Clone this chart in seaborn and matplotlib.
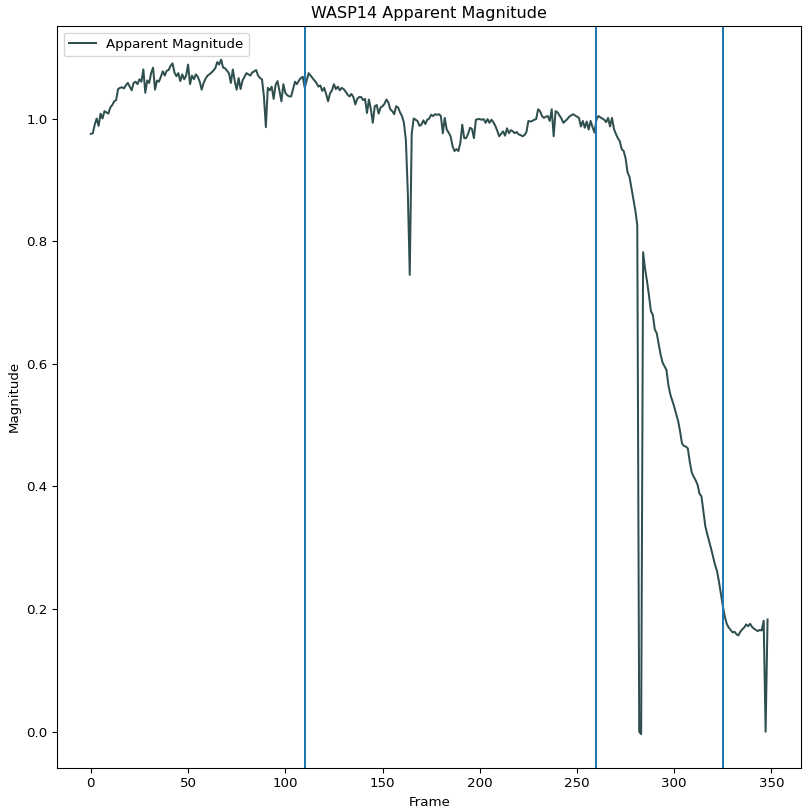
from matplotlib import pyplot as plt
import seaborn as sns
import pandas as pd
import numpy as np

# apparent magnitude per frame
magnitude = [
    0.975, 0.976, 0.990, 1.000, 0.988, 1.008, 1.000, 1.012, 1.010, 1.008,
    1.018, 1.022, 1.028, 1.030, 1.048, 1.050, 1.051, 1.049, 1.054, 1.058,
    1.052, 1.046, 1.058, 1.060, 1.056, 1.064, 1.060, 1.080, 1.042, 1.062,
    1.058, 1.074, 1.083, 1.047, 1.062, 1.060, 1.068, 1.077, 1.070, 1.078,
    1.079, 1.086, 1.090, 1.075, 1.069, 1.074, 1.061, 1.072, 1.064, 1.070,
    1.088, 1.056, 1.070, 1.064, 1.072, 1.068, 1.060, 1.047, 1.058, 1.065,
    1.070, 1.072, 1.075, 1.078, 1.082, 1.092, 1.088, 1.096, 1.083, 1.082,
    1.078, 1.074, 1.058, 1.080, 1.061, 1.047, 1.066, 1.048, 1.062, 1.068,
    1.074, 1.072, 1.070, 1.075, 1.077, 1.079, 1.070, 1.066, 1.064, 1.036,
    0.986, 1.050, 1.046, 1.052, 1.032, 1.055, 1.061, 1.045, 1.028, 1.056,
    1.042, 1.038, 1.036, 1.036, 1.048, 1.060, 1.056, 1.062, 1.066, 1.068,
    1.050, 1.062, 1.074, 1.070, 1.066, 1.062, 1.058, 1.052, 1.054, 1.045,
    1.050, 1.040, 1.028, 1.041, 1.046, 1.056, 1.048, 1.052, 1.046, 1.050,
    1.048, 1.044, 1.039, 1.036, 1.040, 1.035, 1.023, 1.032, 1.035, 1.035,
    1.030, 1.032, 1.009, 1.031, 1.015, 0.993, 1.020, 1.022, 1.008, 1.018,
    1.020, 1.024, 1.031, 1.026, 1.015, 1.012, 1.007, 1.020, 1.018, 1.010,
    1.004, 0.993, 0.965, 0.880, 0.745, 0.975, 1.000, 0.998, 0.996, 0.988,
    0.990, 0.997, 0.991, 0.998, 1.000, 1.006, 1.004, 1.007, 1.006, 1.007,
    1.004, 0.976, 1.001, 0.982, 0.977, 0.971, 0.955, 0.947, 0.950, 0.947,
    0.960, 0.990, 0.968, 0.968, 0.975, 0.985, 0.983, 0.968, 0.998, 0.999,
    0.999, 0.998, 0.999, 0.993, 0.999, 0.993, 0.998, 0.994, 0.988, 0.980,
    0.971, 0.975, 0.979, 0.972, 0.984, 0.976, 0.981, 0.979, 0.976, 0.978,
    0.974, 0.973, 0.971, 0.973, 0.978, 0.996, 0.995, 0.996, 0.998, 0.999,
    1.015, 1.012, 1.004, 1.001, 1.003, 1.004, 0.996, 1.015, 0.971, 1.012,
    1.010, 1.005, 1.000, 0.993, 0.996, 0.999, 1.003, 1.005, 1.007, 1.005,
    1.003, 1.001, 0.987, 0.996, 0.985, 0.995, 0.982, 0.996, 0.986, 0.977,
    0.998, 1.004, 1.002, 1.000, 0.998, 0.994, 1.001, 0.987, 1.001, 0.983,
    0.975, 0.968, 0.963, 0.950, 0.947, 0.935, 0.912, 0.905, 0.887, 0.870,
    0.850, 0.826, 0.000, -0.004, 0.782, 0.755, 0.735, 0.712, 0.686, 0.680,
    0.656, 0.650, 0.632, 0.615, 0.602, 0.596, 0.590, 0.565, 0.550, 0.540,
    0.530, 0.518, 0.507, 0.490, 0.470, 0.466, 0.465, 0.462, 0.440, 0.423,
    0.416, 0.410, 0.403, 0.388, 0.384, 0.360, 0.335, 0.322, 0.310, 0.298,
    0.285, 0.272, 0.262, 0.245, 0.225, 0.205, 0.188, 0.176, 0.170, 0.166,
    0.162, 0.163, 0.159, 0.157, 0.163, 0.167, 0.170, 0.175, 0.172, 0.176,
    0.171, 0.168, 0.166, 0.164, 0.166, 0.165, 0.181, 0.000, 0.183,
]
frames = list(range(len(magnitude)))

# frames marked with vertical lines
markers = [110, 260, 325]

if __name__ == '__main__':
    df = pd.DataFrame({'Frame': frames, 'Magnitude': magnitude})

    fig, ax = plt.subplots(figsize=(803 / 96, 810 / 96), dpi=96)
    sns.lineplot(x='Frame', y='Magnitude', data=df, color='darkslategray',
                 label='Apparent Magnitude', ax=ax)
    for m in markers:
        ax.axvline(m)

    ax.set_title('WASP14 Apparent Magnitude')
    ax.legend(loc='upper left')
    plt.subplots_adjust(left=0.071, right=0.998, top=0.968, bottom=0.052)
    plt.savefig('out.png')
